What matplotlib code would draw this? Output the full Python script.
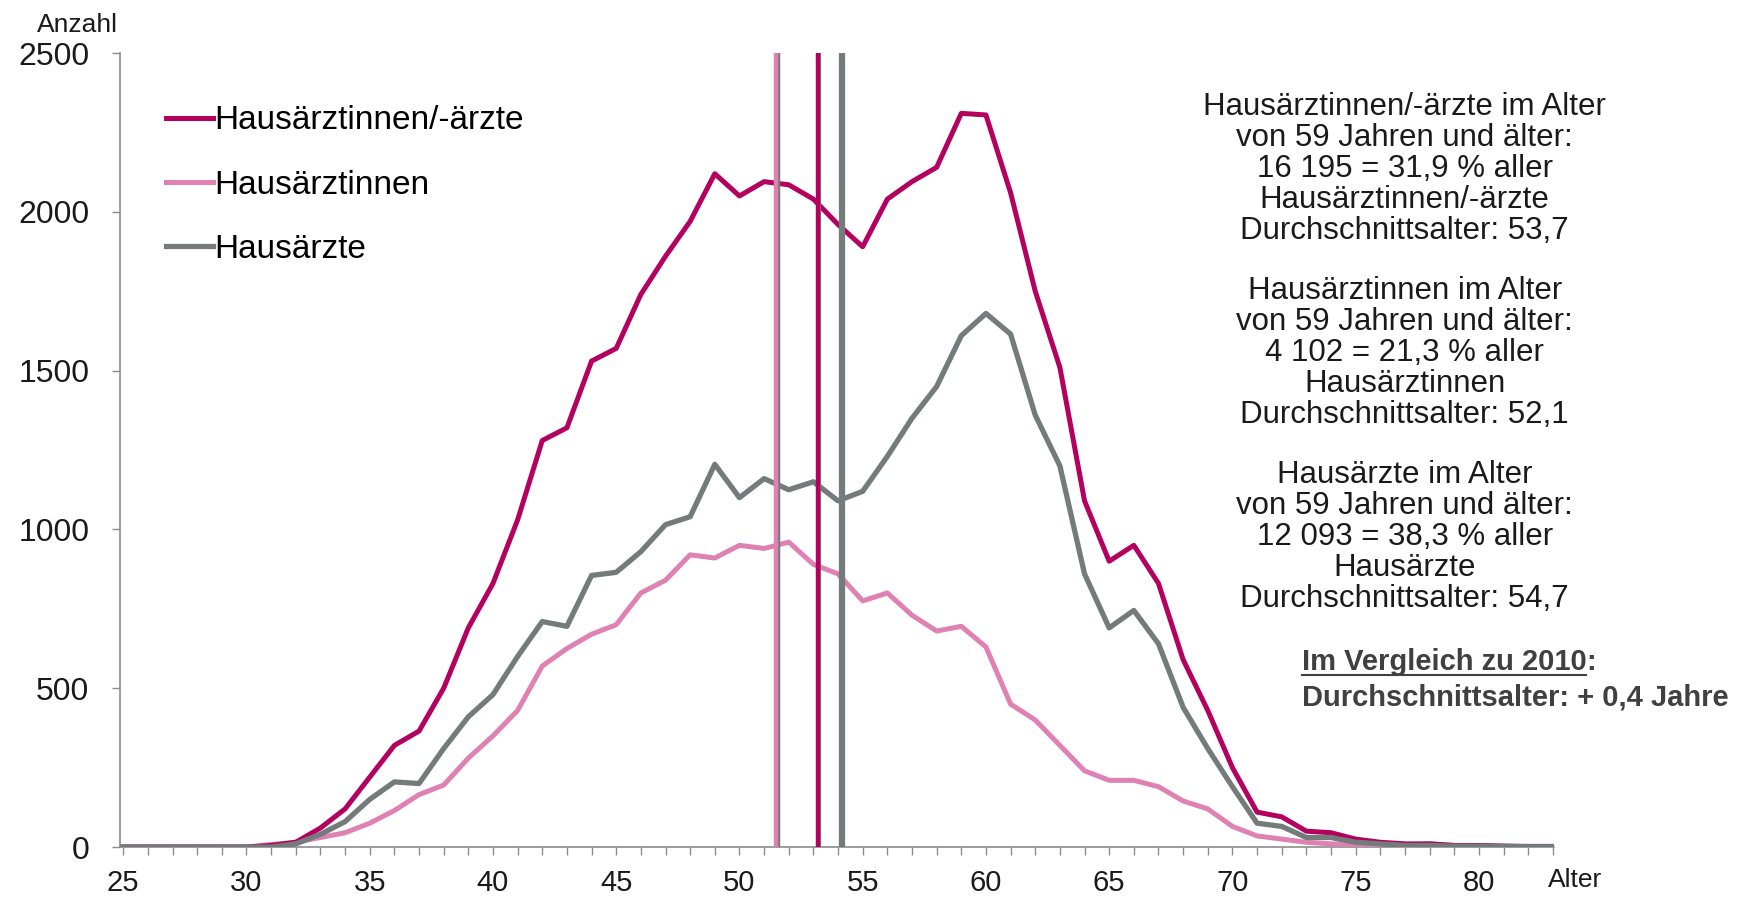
import numpy as np
import matplotlib
matplotlib.use("Agg")
import matplotlib.pyplot as plt

plt.rcParams['font.family'] = ['Liberation Sans', 'DejaVu Sans']

# Alter (Kategorienachse)
ages = np.arange(25, 84)

# Anzahl je Altersjahr
total = [0, 0, 0, 0, 0, 0, 5, 15, 60, 120, 220, 320, 365, 500, 690, 830,
         1030, 1280, 1320, 1530, 1570, 1740, 1860, 1970, 2120, 2050, 2095, 2085,
         2040, 1960, 1890, 2040, 2095, 2140, 2310, 2305, 2060, 1750, 1510, 1090,
         900, 950, 830, 590, 430, 250, 110, 95, 50, 45, 25, 15, 10, 10, 5, 5,
         3, 2, 2]
women = [0, 0, 0, 0, 0, 0, 8, 15, 30, 45, 75, 115, 165, 195, 280, 350,
         430, 570, 625, 670, 700, 800, 840, 920, 910, 950, 940, 960,
         890, 860, 775, 800, 730, 680, 695, 630, 450, 400, 320, 240,
         210, 210, 190, 145, 120, 65, 35, 25, 15, 10, 8, 5, 5, 10, 5, 3,
         2, 1, 1]
men = [0, 0, 0, 0, 0, 0, 0, 10, 40, 80, 150, 205, 200, 310, 410, 480,
       600, 710, 695, 855, 865, 930, 1015, 1040, 1205, 1100, 1160, 1125,
       1150, 1090, 1120, 1230, 1350, 1450, 1610, 1680, 1615, 1360, 1200, 860,
       690, 745, 640, 440, 310, 190, 75, 65, 30, 30, 15, 10, 5, 5, 3, 3,
       2, 1, 1]

# Durchschnittsalter-Linien (Position auf der Kategorienachse)
mean_pos_women = 51.5
mean_pos_total = 53.2
mean_pos_men = 54.15

labels = ["Hausärztinnen/-ärzte", "Hausärztinnen", "Hausärzte"]

c_total = "#b4005f"
c_women = "#df82b3"
c_men = "#737b7b"
c_axis = "#8c8c8c"

fig = plt.figure(figsize=(17.37, 8.97), dpi=100)
ax = fig.add_axes([0.0691, 0.0557, 0.8256, 0.8852])

l_w, = ax.plot(ages, women, color=c_women, lw=3.6, zorder=3, solid_joinstyle='round')
l_t, = ax.plot(ages, total, color=c_total, lw=3.6, zorder=4, solid_joinstyle='round')
l_m, = ax.plot(ages, men, color=c_men, lw=3.8, zorder=5, solid_joinstyle='round')

# Mittelwertlinien
ax.axvline(mean_pos_women + 0.07, color=c_men, lw=2.5, zorder=6)
ax.axvline(mean_pos_women, color=c_women, lw=3.2, zorder=7)
ax.axvline(mean_pos_total + 0.05, color=c_men, lw=1.5, zorder=6)
ax.axvline(mean_pos_total, color=c_total, lw=3.2, zorder=7)
ax.axvline(mean_pos_men, color=c_men, lw=4.5, zorder=7)

ax.set_xlim(24.87, 83.05)
ax.set_ylim(0, 2500)

for s in ['top', 'right']:
    ax.spines[s].set_visible(False)
for s in ['left', 'bottom']:
    ax.spines[s].set_color(c_axis)
    ax.spines[s].set_linewidth(1.2)

ax.set_yticks([0, 500, 1000, 1500, 2000, 2500])
ax.tick_params(axis='y', direction='out', length=6, width=1.0, color=c_axis,
               labelsize=23, pad=16, labelcolor='#1a1a1a')
ax.set_xticks(np.arange(25, 81, 5))
ax.set_xticks(np.arange(25, 84, 1), minor=True)
ax.tick_params(axis='x', which='both', direction='out', length=6, width=1.0,
               color=c_axis)
ax.tick_params(axis='x', which='major', labelsize=21, pad=10, labelcolor='#1a1a1a')

fig.text(0.0446, 0.972, "Anzahl", fontsize=19, ha='center', va='center', color='#1a1a1a')
fig.text(0.907, 0.019, "Alter", fontsize=19, ha='center', va='center', color='#1a1a1a')

ax.legend([l_t, l_w, l_m], labels, loc='upper left', bbox_to_anchor=(0.0957, 0.8825),
          bbox_transform=fig.transFigure, frameon=False, fontsize=24,
          borderpad=0, borderaxespad=0, handletextpad=0.05, handlelength=1.4,
          labelspacing=1.0)

block1 = ("Hausärztinnen/-ärzte im Alter\nvon 59 Jahren und älter:\n"
          "16 195 = 31,9 % aller\nHausärztinnen/-ärzte\nDurchschnittsalter: 53,7")
block2 = ("Hausärztinnen im Alter\nvon 59 Jahren und älter:\n"
          "4 102 = 21,3 % aller\nHausärztinnen\nDurchschnittsalter: 52,1")
block3 = ("Hausärzte im Alter\nvon 59 Jahren und älter:\n"
          "12 093 = 38,3 % aller\nHausärzte\nDurchschnittsalter: 54,7")
for txt, yy in [(block1, 0.8115), (block2, 0.6067), (block3, 0.4017)]:
    fig.text(0.8087, yy, txt, fontsize=22.5, ha='center', va='center',
             linespacing=1.04, color='#1a1a1a')

t1 = fig.text(0.7494, 0.2615, "Im Vergleich zu 2010", fontsize=21, fontweight='bold',
              ha='left', va='center', color='#404040')
fig.canvas.draw()
bb = t1.get_window_extent()
inv = fig.transFigure.inverted()
(x0, y0), (x1, y1) = inv.transform([[bb.x0, bb.y0], [bb.x1, bb.y1]])
fig.text(x1, 0.2615, ":", fontsize=21, fontweight='bold', ha='left', va='center',
         color='#404040')
fig.add_artist(plt.Line2D([x0, x1], [y0 + 0.002, y0 + 0.002], color='#404040',
                          lw=1.5, transform=fig.transFigure))
fig.text(0.7494, 0.2219, "Durchschnittsalter: + 0,4 Jahre", fontsize=21,
         fontweight='bold', ha='left', va='center', color='#404040')

fig.savefig("out.png", dpi=100)
